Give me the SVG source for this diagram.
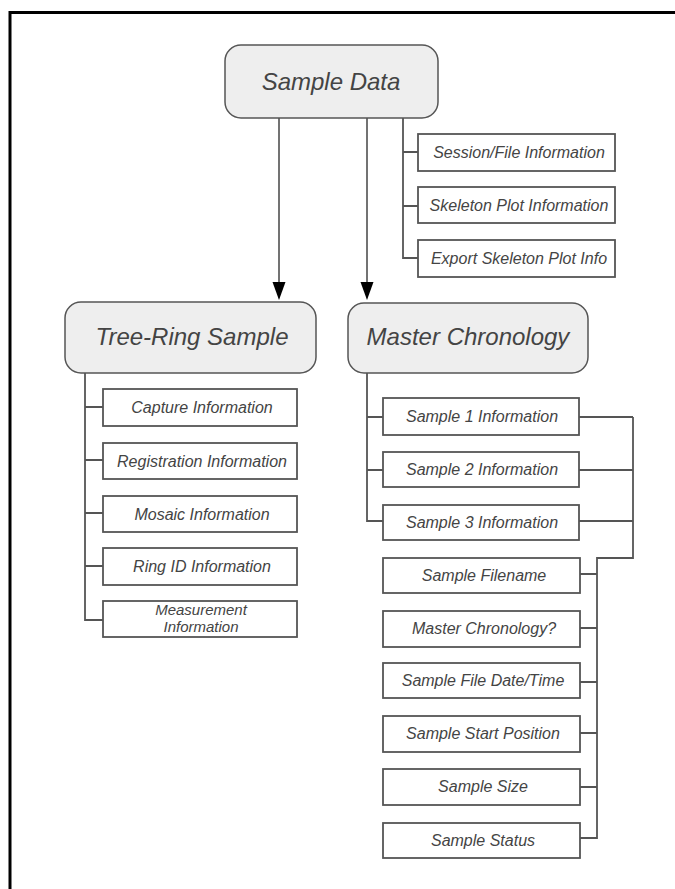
<svg xmlns="http://www.w3.org/2000/svg" width="675" height="889" viewBox="0 0 675 889">
<style>
.big{fill:#eeeeee;stroke:#555;stroke-width:1.5}
.box{fill:#fff;stroke:#555;stroke-width:1.8}
.bt{font-family:"Liberation Sans",Arial,sans-serif;font-style:italic;font-size:24px;fill:#444;text-anchor:middle}
.st{font-family:"Liberation Sans",Arial,sans-serif;font-style:italic;font-size:16px;fill:#444;text-anchor:middle}
.mt{font-size:15px}
.ln{fill:none;stroke:#555;stroke-width:1.8}
.ar{fill:none;stroke:#444;stroke-width:1.5}
.hd{fill:#000}
</style>
<rect width="675" height="889" fill="#fff"/>
<path d="M10,889 V12.5 H675" fill="none" stroke="#000" stroke-width="3"/>

<g id="connectors">
<path class="ar" d="M279,118 V282"/>
<path class="hd" d="M272.5,282 H285.5 L279,300 Z"/>
<path class="ar" d="M367,118 V282"/>
<path class="hd" d="M360.5,282 H373.5 L367,300 Z"/>
<path class="ln" d="M403,118 V258 H418 M403,152 H418 M403,206 H418"/>
<path class="ln" d="M85,373 V620 H103 M85,407 H103 M85,460 H103 M85,513 H103 M85,566 H103"/>
<path class="ln" d="M367,373 V521 H383 M367,417 H383 M367,470 H383"/>
<path class="ln" d="M579,417 H633 M579,470 H633 M579,521 H633 M633,417 V558 H597 V838 H580 M580,574 H597 M580,628 H597 M580,682 H597 M580,733 H597 M580,787 H597"/>
</g>

<g id="sample-data"><rect class="big" x="225" y="45" width="213" height="73" rx="16"/><text class="bt" x="331" y="90">Sample Data</text></g>
<g id="session-file"><rect class="box" x="418" y="134" width="197" height="37"/><text class="st" x="519" y="158">Session/File Information</text></g>
<g id="skeleton-plot"><rect class="box" x="418" y="187" width="197" height="36"/><text class="st" x="519" y="211">Skeleton Plot Information</text></g>
<g id="export-skeleton"><rect class="box" x="418" y="240" width="197" height="37"/><text class="st" x="519" y="264">Export Skeleton Plot Info</text></g>

<g id="tree-ring-sample"><rect class="big" x="65" y="302" width="251" height="71" rx="16"/><text class="bt" x="192" y="345">Tree-Ring Sample</text></g>
<g id="capture"><rect class="box" x="103" y="389" width="194" height="37"/><text class="st" x="202" y="413">Capture Information</text></g>
<g id="registration"><rect class="box" x="103" y="443" width="194" height="36"/><text class="st" x="202" y="467">Registration Information</text></g>
<g id="mosaic"><rect class="box" x="103" y="496" width="194" height="36"/><text class="st" x="202" y="520">Mosaic Information</text></g>
<g id="ring-id"><rect class="box" x="103" y="548" width="194" height="37"/><text class="st" x="202" y="572">Ring ID Information</text></g>
<g id="measurement"><rect class="box" x="103" y="601" width="194" height="36"/><text class="st mt" x="201" y="615">Measurement</text><text class="st mt" x="201" y="632">Information</text></g>

<g id="master-chronology"><rect class="big" x="348" y="303" width="240" height="70" rx="16"/><text class="bt" x="468" y="345">Master Chronology</text></g>
<g id="sample1"><rect class="box" x="383" y="398" width="196" height="37"/><text class="st" x="482" y="422">Sample 1 Information</text></g>
<g id="sample2"><rect class="box" x="383" y="452" width="196" height="35"/><text class="st" x="482" y="475">Sample 2 Information</text></g>
<g id="sample3"><rect class="box" x="383" y="505" width="196" height="35"/><text class="st" x="482" y="528">Sample 3 Information</text></g>
<g id="sample-filename"><rect class="box" x="383" y="558" width="197" height="35"/><text class="st" x="484" y="581">Sample Filename</text></g>
<g id="master-chronology-q"><rect class="box" x="383" y="611" width="197" height="36"/><text class="st" x="484" y="634">Master Chronology?</text></g>
<g id="sample-file-datetime"><rect class="box" x="383" y="663" width="197" height="35"/><text class="st" x="483" y="686">Sample File Date/Time</text></g>
<g id="sample-start-position"><rect class="box" x="383" y="716" width="197" height="36"/><text class="st" x="483" y="739">Sample Start Position</text></g>
<g id="sample-size"><rect class="box" x="383" y="769" width="197" height="36"/><text class="st" x="483" y="792">Sample Size</text></g>
<g id="sample-status"><rect class="box" x="383" y="823" width="197" height="35"/><text class="st" x="483" y="846">Sample Status</text></g>
</svg>
